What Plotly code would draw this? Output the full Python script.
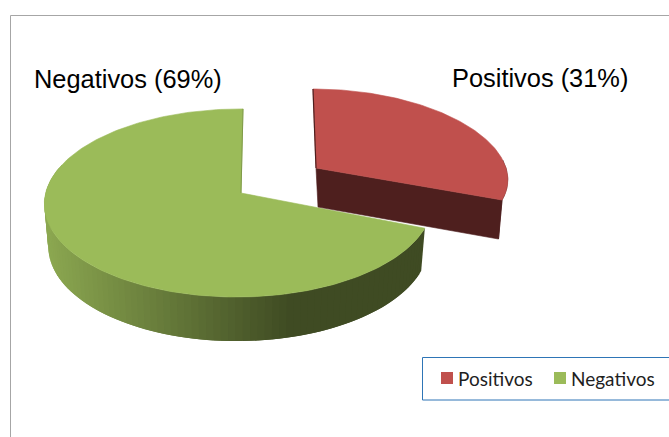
import numpy as np
import plotly.graph_objects as go

# Excel-style exploded 3D pie, drawn on a pixel-sized cartesian plane
labels = ["Positivos", "Negativos"]
values = [31, 69]

W, H = 669, 437
TOP = {"Positivos": "#C0504D", "Negativos": "#9BBB59"}
SIDE_RED = "#4E1F1E"
SIDE_GREEN_L = np.array([0x8C, 0xA8, 0x51])
SIDE_GREEN_D = np.array([0x3F, 0x4B, 0x23])
FRAME = "#A6A6A6"
LEGEND_LINE = "#2E75B6"

# projection of each slice's disc (origin, half axes, perspective terms)
GREEN = dict(ox=241, oy=193, a=193, b=93, k=0.106, kx=0.106, m=0.012, s=2)
RED = dict(ox=316, oy=168, a=190, b=84.7, k=0.072, kx=0.122, m=0.0, s=-3)
GREEN_DEPTH = dict(dx=0, dy=42, sx=0.98, sy=1.02)
RED_DEPTH = dict(dx=2, dy=39, sx=0.97, sy=1.0)


def project(theta, p, d=None):
    u, v = np.sin(theta), np.cos(theta)
    x = p["a"] * u / (1 + p["kx"] * v + p["m"] * u) + p["s"] * v
    y = -p["b"] * v / (1 + p["k"] * v + p["m"] * u)
    if d:
        return p["ox"] + d["dx"] + x * d["sx"], p["oy"] + d["dy"] + y * d["sy"]
    return p["ox"] + x, p["oy"] + y


def poly(fig, xs, ys, color, lw=0.6):
    fig.add_trace(go.Scatter(
        x=xs, y=ys, mode="lines", fill="toself", fillcolor=color,
        line=dict(color=color, width=lw), showlegend=False, hoverinfo="skip",
    ))


def side_color(x):
    t = min(max((x - 47) / (295 - 47), 0), 1)
    c = SIDE_GREEN_L + (SIDE_GREEN_D - SIDE_GREEN_L) * t
    return "rgb(%d,%d,%d)" % tuple(c)


split = 2 * np.pi * values[0] / sum(values)
fig = go.Figure()

# green slice: overlapping rim strips (hides seams) then the top face
edges = np.linspace(split, 1.6 * np.pi, 90)
for i in range(len(edges) - 2):
    tt = edges[i:i + 3]
    xa, ya = project(tt, GREEN)
    xb, yb = project(tt, GREEN, GREEN_DEPTH)
    poly(fig, [*xa, *xb[::-1], xa[0]], [*ya, *yb[::-1], ya[0]], side_color(xa[0]), lw=0)

theta = np.linspace(split, 2 * np.pi, 200)
gx, gy = project(theta, GREEN)
poly(fig, [GREEN["ox"], *gx, GREEN["ox"]], [GREEN["oy"], *gy, GREEN["oy"]], TOP["Negativos"])
fig.add_trace(go.Scatter(x=[GREEN["ox"], gx[-1]], y=[GREEN["oy"], gy[-1]], mode="lines",
                         line=dict(color="#7F9A48", width=1), showlegend=False, hoverinfo="skip"))

# red slice: cut face, rim, then the top face
ex, ey = project(np.array([split]), RED)
ebx, eby = project(np.array([split]), RED, RED_DEPTH)
rim = np.linspace(np.pi * 0.47, split, 30)
rx, ry = project(rim, RED)
poly(fig, [*rx, ebx[0], rx[0]], [*ry, eby[0], ry[0]], SIDE_RED)
poly(fig, [RED["ox"], ex[0], ebx[0], RED["ox"] + RED_DEPTH["dx"], RED["ox"]],
     [RED["oy"], ey[0], eby[0], RED["oy"] + RED_DEPTH["dy"], RED["oy"]], SIDE_RED)
theta = np.linspace(0, split, 120)
px_, py_ = project(theta, RED)
poly(fig, [RED["ox"], *px_, RED["ox"]], [RED["oy"], *py_, RED["oy"]], TOP["Positivos"])
fig.add_trace(go.Scatter(x=[RED["ox"], px_[0]], y=[RED["oy"], py_[0]], mode="lines",
                         line=dict(color=SIDE_RED, width=1.2), showlegend=False, hoverinfo="skip"))

# legend keys, hand placed because the native one leaves too wide a gap
for name, lx in zip(labels, [447, 560]):
    fig.add_trace(go.Scatter(x=[lx], y=[378], mode="markers",
                             marker=dict(symbol="square", size=12, color=TOP[name]),
                             showlegend=False, hoverinfo="skip"))
    fig.add_annotation(x=lx + 9, y=378, text=name, showarrow=False, xanchor="left", yanchor="middle",
                       font=dict(family="Lato", size=19, color="#1F1F1F"))

fig.add_annotation(x=32, y=79, text=f"{labels[1]} ({values[1]}%)", showarrow=False, xanchor="left",
                   yanchor="middle", font=dict(family="Liberation Sans", size=25.4, color="#000000"))
fig.add_annotation(x=450, y=78, text=f"{labels[0]} ({values[0]}%)", showarrow=False, xanchor="left",
                   yanchor="middle", font=dict(family="Liberation Sans", size=25.4, color="#000000"))

fig.update_layout(
    width=W, height=H, margin=dict(t=0, b=0, l=0, r=0),
    paper_bgcolor="#FFFFFF", plot_bgcolor="#FFFFFF", showlegend=False,
    xaxis=dict(range=[0, W], visible=False, fixedrange=True),
    yaxis=dict(range=[H, 0], visible=False, fixedrange=True),
    shapes=[
        dict(type="line", x0=10.5, x1=W + 5, y0=15.5, y1=15.5, line=dict(color=FRAME, width=1)),
        dict(type="line", x0=10.5, x1=10.5, y0=15.5, y1=H + 5, line=dict(color=FRAME, width=1)),
        dict(type="rect", x0=422.5, x1=W + 5, y0=357.5, y1=400, line=dict(color=LEGEND_LINE, width=1)),
    ],
)

fig.write_html("out.html", config={"displayModeBar": False},
               post_script="document.body.style.margin='0';")
